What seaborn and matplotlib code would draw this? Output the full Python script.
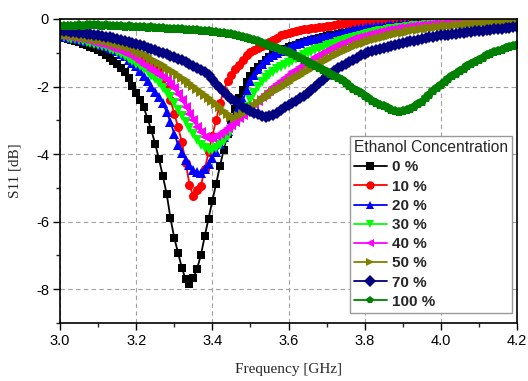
import numpy as np
import pandas as pd
import matplotlib
matplotlib.use("Agg")
import matplotlib.pyplot as plt
import seaborn as sns

# Frequency axis (GHz), 0.01 GHz step
freq = np.round(np.arange(3.00, 4.2001, 0.01), 2)

s11_0 = [
    -0.55, -0.57, -0.60, -0.63, -0.66, -0.69, -0.73, -0.77, -0.82, -0.87,
    -0.93, -0.99, -1.06, -1.14, -1.23, -1.33, -1.44, -1.57, -1.74, -1.97,
    -2.20, -2.40, -2.62, -2.95, -3.30, -3.70, -4.15, -4.65, -5.17, -5.89,
    -6.48, -6.92, -7.37, -7.71, -7.84, -7.66, -7.39, -6.99, -6.43, -5.91,
    -5.38, -4.88, -4.35, -3.87, -3.40, -3.00, -2.65, -2.35, -2.10, -1.87,
    -1.68, -1.55, -1.43, -1.32, -1.22, -1.12, -1.04, -0.98, -0.93, -0.88,
    -0.84, -0.80, -0.76, -0.72, -0.68, -0.65, -0.62, -0.59, -0.56, -0.53,
    -0.50, -0.48, -0.46, -0.44, -0.42, -0.40, -0.38, -0.36, -0.34, -0.33,
    -0.31, -0.30, -0.29, -0.27, -0.26, -0.25, -0.24, -0.23, -0.22, -0.21,
    -0.20, -0.19, -0.19, -0.18, -0.17, -0.17, -0.16, -0.15, -0.15, -0.14,
    -0.14, -0.13, -0.13, -0.12, -0.12, -0.11, -0.11, -0.11, -0.10, -0.10,
    -0.10, -0.09, -0.09, -0.09, -0.08, -0.08, -0.08, -0.08, -0.07, -0.07, -0.07]

s11_10 = [
    -0.45, -0.46, -0.48, -0.50, -0.52, -0.54, -0.56, -0.58, -0.61, -0.64,
    -0.67, -0.70, -0.73, -0.77, -0.81, -0.85, -0.89, -0.94, -0.99, -1.04,
    -1.09, -1.13, -1.17, -1.21, -1.27, -1.40, -1.55, -1.75, -2.00, -2.40,
    -2.80, -3.20, -3.65, -4.25, -4.90, -5.25, -5.05, -4.93, -4.45, -3.95,
    -3.45, -3.00, -2.50, -2.12, -1.85, -1.65, -1.48, -1.35, -1.22, -1.08,
    -0.97, -0.91, -0.85, -0.80, -0.73, -0.68, -0.62, -0.55, -0.48, -0.44,
    -0.40, -0.38, -0.35, -0.33, -0.31, -0.29, -0.28, -0.27, -0.25, -0.24,
    -0.22, -0.20, -0.18, -0.16, -0.14, -0.12, -0.11, -0.10, -0.09, -0.08,
    -0.08, -0.07, -0.07, -0.06, -0.06, -0.06, -0.05, -0.05, -0.05, -0.05,
    -0.05, -0.04, -0.05, -0.04, -0.04, -0.04, -0.04, -0.03, -0.04, -0.03,
    -0.03, -0.03, -0.03, -0.03, -0.03, -0.03, -0.03, -0.02, -0.03, -0.02,
    -0.02, -0.02, -0.02, -0.02, -0.02, -0.02, -0.02, -0.02, -0.02, -0.02, -0.02]

s11_20 = [
    -0.50, -0.52, -0.53, -0.55, -0.57, -0.59, -0.61, -0.64, -0.66, -0.69,
    -0.72, -0.76, -0.80, -0.85, -0.90, -0.96, -1.03, -1.11, -1.20, -1.30,
    -1.40, -1.55, -1.70, -1.85, -2.00, -2.15, -2.30, -2.50, -2.75, -3.05,
    -3.40, -3.72, -3.97, -4.17, -4.33, -4.47, -4.53, -4.55, -4.45, -4.30,
    -4.12, -3.95, -3.70, -3.50, -3.32, -3.10, -2.85, -2.62, -2.40, -2.10,
    -1.85, -1.65, -1.47, -1.33, -1.22, -1.12, -1.07, -1.02, -0.96, -0.90,
    -0.85, -0.80, -0.74, -0.70, -0.66, -0.63, -0.60, -0.58, -0.56, -0.53,
    -0.51, -0.49, -0.46, -0.43, -0.40, -0.38, -0.36, -0.34, -0.31, -0.28,
    -0.26, -0.25, -0.23, -0.22, -0.21, -0.20, -0.19, -0.18, -0.17, -0.16,
    -0.15, -0.15, -0.14, -0.13, -0.13, -0.12, -0.11, -0.10, -0.09, -0.09,
    -0.08, -0.08, -0.07, -0.07, -0.07, -0.06, -0.06, -0.06, -0.05, -0.05,
    -0.05, -0.05, -0.05, -0.04, -0.04, -0.04, -0.04, -0.04, -0.03, -0.03, -0.03]

s11_30 = [
    -0.52, -0.54, -0.56, -0.58, -0.60, -0.62, -0.65, -0.67, -0.70, -0.73,
    -0.76, -0.80, -0.84, -0.88, -0.93, -0.98, -1.04, -1.10, -1.17, -1.24,
    -1.32, -1.40, -1.49, -1.58, -1.68, -1.78, -1.90, -2.04, -2.18, -2.32,
    -2.50, -2.68, -2.86, -3.04, -3.22, -3.40, -3.57, -3.72, -3.82, -3.87,
    -3.87, -3.82, -3.72, -3.60, -3.46, -3.30, -3.14, -2.98, -2.80, -2.60,
    -2.40, -2.20, -2.02, -1.87, -1.76, -1.66, -1.57, -1.49, -1.42, -1.35,
    -1.29, -1.23, -1.17, -1.12, -1.07, -1.02, -0.97, -0.93, -0.89, -0.85,
    -0.81, -0.77, -0.73, -0.69, -0.66, -0.62, -0.59, -0.56, -0.53, -0.50,
    -0.47, -0.44, -0.42, -0.39, -0.37, -0.35, -0.33, -0.31, -0.29, -0.27,
    -0.26, -0.24, -0.23, -0.22, -0.21, -0.20, -0.19, -0.18, -0.17, -0.16,
    -0.15, -0.15, -0.14, -0.13, -0.13, -0.12, -0.12, -0.11, -0.11, -0.10,
    -0.10, -0.09, -0.09, -0.09, -0.08, -0.08, -0.08, -0.07, -0.07, -0.07, -0.06]

s11_40 = [
    -0.47, -0.49, -0.51, -0.53, -0.55, -0.57, -0.60, -0.62, -0.65, -0.68,
    -0.71, -0.74, -0.78, -0.82, -0.86, -0.90, -0.95, -1.00, -1.05, -1.11,
    -1.18, -1.26, -1.35, -1.43, -1.51, -1.58, -1.65, -1.72, -1.80, -1.92,
    -2.05, -2.22, -2.40, -2.60, -2.80, -3.00, -3.20, -3.35, -3.48, -3.53,
    -3.52, -3.47, -3.40, -3.32, -3.24, -3.14, -3.04, -2.94, -2.84, -2.74,
    -2.62, -2.52, -2.42, -2.32, -2.22, -2.12, -2.02, -1.93, -1.84, -1.75,
    -1.66, -1.58, -1.50, -1.42, -1.34, -1.27, -1.20, -1.13, -1.06, -1.00,
    -0.94, -0.88, -0.83, -0.78, -0.73, -0.68, -0.64, -0.60, -0.56, -0.53,
    -0.50, -0.47, -0.44, -0.41, -0.39, -0.36, -0.34, -0.32, -0.30, -0.28,
    -0.26, -0.25, -0.23, -0.22, -0.20, -0.19, -0.18, -0.17, -0.16, -0.15,
    -0.14, -0.13, -0.12, -0.12, -0.11, -0.10, -0.10, -0.09, -0.09, -0.08,
    -0.08, -0.08, -0.07, -0.07, -0.07, -0.06, -0.06, -0.06, -0.06, -0.05, -0.05]

s11_50 = [
    -0.45, -0.46, -0.47, -0.48, -0.50, -0.52, -0.53, -0.55, -0.57, -0.59,
    -0.61, -0.63, -0.66, -0.68, -0.71, -0.74, -0.77, -0.80, -0.83, -0.86,
    -0.95, -1.00, -1.05, -1.11, -1.17, -1.23, -1.30, -1.37, -1.44, -1.51,
    -1.58, -1.66, -1.74, -1.82, -1.90, -1.98, -2.06, -2.15, -2.24, -2.33,
    -2.42, -2.52, -2.62, -2.72, -2.82, -2.90, -2.92, -2.88, -2.80, -2.73,
    -2.65, -2.57, -2.49, -2.41, -2.33, -2.25, -2.17, -2.10, -2.03, -1.96,
    -1.89, -1.82, -1.75, -1.68, -1.61, -1.54, -1.47, -1.40, -1.33, -1.27,
    -1.21, -1.15, -1.09, -1.03, -0.98, -0.93, -0.88, -0.83, -0.78, -0.74,
    -0.70, -0.66, -0.62, -0.59, -0.56, -0.53, -0.50, -0.47, -0.45, -0.42,
    -0.40, -0.38, -0.36, -0.34, -0.32, -0.30, -0.29, -0.27, -0.26, -0.24,
    -0.23, -0.22, -0.21, -0.20, -0.19, -0.18, -0.17, -0.16, -0.15, -0.14,
    -0.14, -0.13, -0.12, -0.12, -0.11, -0.11, -0.10, -0.10, -0.09, -0.09, -0.08]

s11_70 = [
    -0.35, -0.36, -0.37, -0.38, -0.39, -0.40, -0.41, -0.43, -0.44, -0.46,
    -0.48, -0.50, -0.52, -0.54, -0.57, -0.60, -0.63, -0.66, -0.69, -0.72,
    -0.75, -0.78, -0.81, -0.85, -0.89, -0.93, -0.97, -1.01, -1.05, -1.09,
    -1.13, -1.17, -1.22, -1.27, -1.33, -1.38, -1.44, -1.51, -1.58, -1.66,
    -1.78, -1.92, -2.05, -2.17, -2.27, -2.36, -2.44, -2.52, -2.60, -2.67,
    -2.73, -2.78, -2.82, -2.86, -2.89, -2.87, -2.83, -2.77, -2.70, -2.62,
    -2.55, -2.48, -2.42, -2.35, -2.27, -2.20, -2.10, -2.00, -1.90, -1.80,
    -1.70, -1.62, -1.53, -1.45, -1.38, -1.32, -1.26, -1.20, -1.14, -1.08,
    -1.03, -0.99, -0.95, -0.92, -0.88, -0.86, -0.83, -0.80, -0.77, -0.74,
    -0.71, -0.69, -0.66, -0.64, -0.61, -0.59, -0.56, -0.54, -0.52, -0.50,
    -0.48, -0.47, -0.46, -0.44, -0.43, -0.42, -0.41, -0.39, -0.38, -0.37,
    -0.36, -0.35, -0.34, -0.32, -0.31, -0.30, -0.29, -0.28, -0.26, -0.25, -0.24]

s11_100 = [
    -0.22, -0.21, -0.22, -0.20, -0.21, -0.19, -0.20, -0.19, -0.18, -0.19,
    -0.18, -0.20, -0.19, -0.21, -0.20, -0.22, -0.21, -0.23, -0.22, -0.24,
    -0.23, -0.25, -0.24, -0.26, -0.25, -0.27, -0.27, -0.28, -0.29, -0.29,
    -0.30, -0.31, -0.31, -0.32, -0.33, -0.33, -0.34, -0.35, -0.36, -0.37,
    -0.38, -0.39, -0.40, -0.41, -0.43, -0.45, -0.47, -0.49, -0.52, -0.55,
    -0.58, -0.62, -0.66, -0.70, -0.74, -0.79, -0.83, -0.87, -0.91, -0.95,
    -0.99, -1.04, -1.10, -1.16, -1.22, -1.28, -1.34, -1.40, -1.46, -1.51,
    -1.57, -1.63, -1.69, -1.75, -1.82, -1.90, -1.98, -2.06, -2.13, -2.20,
    -2.28, -2.35, -2.42, -2.48, -2.54, -2.59, -2.64, -2.68, -2.72, -2.74,
    -2.72, -2.70, -2.66, -2.60, -2.53, -2.45, -2.35, -2.25, -2.14, -2.03,
    -1.95, -1.86, -1.78, -1.70, -1.62, -1.55, -1.47, -1.40, -1.33, -1.26,
    -1.20, -1.14, -1.08, -1.03, -0.99, -0.95, -0.91, -0.87, -0.84, -0.80, -0.77]

labels = ["0 %", "10 %", "20 %", "30 %", "40 %", "50 %", "70 %", "100 %"]
series = [s11_0, s11_10, s11_20, s11_30, s11_40, s11_50, s11_70, s11_100]
colors = ["#000000", "#FF0000", "#0000FF", "#00FF00", "#FF00FF",
          "#808000", "#000080", "#008000"]
markers = ["s", "o", "^", "v", "<", ">", "D", "p"]
msizes = [6, 6.5, 7.5, 7.5, 7.5, 7.5, 6, 7]

rows = []
for lab, vals in zip(labels, series):
    for f, v in zip(freq, vals):
        rows.append((f, v, lab))
df = pd.DataFrame(rows, columns=["Frequency", "S11", "Conc"])

sns.set_theme(style="ticks")
plt.rcParams["font.family"] = ["Liberation Sans", "DejaVu Sans"]

fig = plt.figure(figsize=(5.28, 3.81), dpi=100)
ax = fig.add_axes([60 / 528, 1 - 323 / 381, 457 / 528, 304 / 381])

for lab, col, mk, ms in zip(labels, colors, markers, msizes):
    sub = df[df["Conc"] == lab]
    sns.lineplot(data=sub, x="Frequency", y="S11", ax=ax, color=col,
                 marker=mk, markersize=ms, markeredgewidth=0,
                 linewidth=1.3, label=lab, legend=False, sort=False,
                 estimator=None)

ax.set_xlim(3.0, 4.2)
ax.set_ylim(-9, 0)
ax.set_xticks([3.0, 3.2, 3.4, 3.6, 3.8, 4.0, 4.2])
ax.set_xticks([3.1, 3.3, 3.5, 3.7, 3.9, 4.1], minor=True)
ax.set_yticks([-8, -6, -4, -2, 0])
ax.set_yticks([-9, -7, -5, -3, -1], minor=True)
ax.set_xticklabels(["3.0", "3.2", "3.4", "3.6", "3.8", "4.0", "4.2"])
ax.set_yticklabels(["-8", "-6", "-4", "-2", "0"])
ax.grid(True, which="major", linestyle=(0, (4, 3)), color="#a0a0a0", linewidth=0.8)
ax.tick_params(axis="both", which="major", direction="out", length=5, width=1,
               labelsize=10.5, colors="#000000", pad=3)
ax.tick_params(axis="both", which="minor", direction="out", length=3, width=1)
for sp in ax.spines.values():
    sp.set_visible(True)
    sp.set_linewidth(1.2)
    sp.set_color("#000000")

ax.set_xlabel("Frequency [GHz]", family=["Liberation Serif"], fontsize=11, labelpad=11)
ax.set_ylabel("S11 [dB]", family=["Liberation Serif"], fontsize=11, labelpad=10)

handles, labs = ax.get_legend_handles_labels()
leg = ax.legend(handles, labs, title="Ethanol Concentration", loc="lower right",
                bbox_to_anchor=(0.988, 0.034), borderaxespad=0, frameon=True,
                fancybox=False, edgecolor="#999999", framealpha=1,
                fontsize=11, title_fontsize=11.2, handlelength=2.2,
                handletextpad=0.3, labelspacing=0.34, borderpad=0.25,
                numpoints=1, alignment="left")
for t in leg.get_texts():
    t.set_fontweight("bold")
for h in leg.legend_handles:
    h.set_markersize(6)

fig.savefig("out.png", dpi=100)
